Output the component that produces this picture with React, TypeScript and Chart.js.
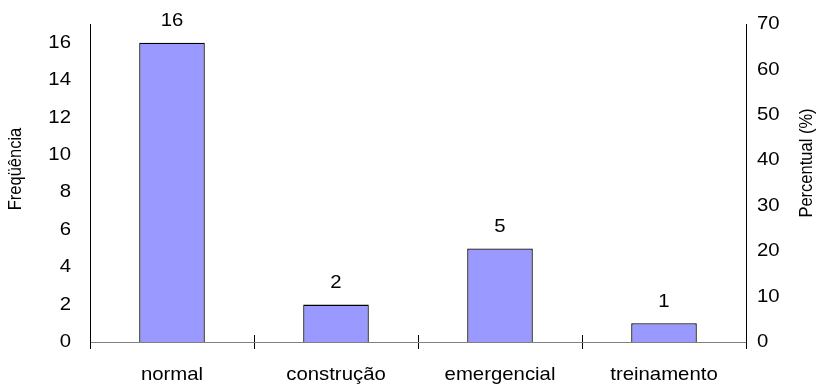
import React, { useEffect, useRef } from "react";
import { Chart, registerables } from "chart.js";

Chart.register(...registerables);

const categories = ["normal", "construção", "emergencial", "treinamento"];
const frequencies = [16, 2, 5, 1];
const leftTicks = [0, 2, 4, 6, 8, 10, 12, 14, 16];
const rightTicks = [0, 10, 20, 30, 40, 50, 60, 70];
const leftTitle = "Freqüência";
const rightTitle = "Percentual (%)";

const FONT = "'Liberation Sans', Arial, sans-serif";
const TXT = `18.5px ${FONT}`;
const SX = 1.1;

function drawText(ctx: CanvasRenderingContext2D, t: string, x: number, y: number, align: CanvasTextAlign, base: CanvasTextBaseline) {
  ctx.save();
  ctx.translate(x, y);
  ctx.scale(SX, 1);
  ctx.textAlign = align;
  ctx.textBaseline = base;
  ctx.fillText(t, 0, 0);
  ctx.restore();
}

function drawTitle(ctx: CanvasRenderingContext2D, t: string, x: number, y: number) {
  ctx.save();
  ctx.translate(x, y);
  ctx.rotate(-Math.PI / 2);
  ctx.scale(1, 1.15);
  ctx.font = `16.5px ${FONT}`;
  ctx.textAlign = "center";
  ctx.textBaseline = "alphabetic";
  ctx.fillText(t, 0, 0);
  ctx.restore();
}

const extrasPlugin = {
  id: "extras",
  afterDraw(chart: any) {
    const ctx = chart.ctx;
    const xs = chart.scales.x;
    const ys = chart.scales.y;
    const yr = chart.scales.y1;
    const meta = chart.getDatasetMeta(0);
    ctx.save();
    ctx.fillStyle = "#000";
    ctx.font = TXT;
    meta.data.forEach((el: any, i: number) => {
      drawText(ctx, String(frequencies[i]), el.x, el.y - 16.5, "center", "alphabetic");
    });
    leftTicks.forEach((v) => {
      drawText(ctx, String(v), ys.left + ys.width - 19, ys.getPixelForValue(v), "right", "middle");
    });
    rightTicks.forEach((v) => {
      drawText(ctx, String(v), yr.left + 11, yr.getPixelForValue(v), "left", "middle");
    });
    categories.forEach((c, i) => {
      drawText(ctx, c, xs.getPixelForValue(i), xs.top + 38, "center", "alphabetic");
    });
    const y0 = ys.getPixelForValue(0);
    ctx.strokeStyle = "#000";
    ctx.lineWidth = 1;
    for (let i = 1; i < categories.length; i++) {
      const bx = Math.round((xs.getPixelForValue(i - 1) + xs.getPixelForValue(i)) / 2) + 0.5;
      ctx.beginPath();
      ctx.moveTo(bx, y0 - 7);
      ctx.lineTo(bx, y0);
      ctx.stroke();
    }
    drawTitle(ctx, leftTitle, 21, 169);
    drawTitle(ctx, rightTitle, 812, 163);
    ctx.restore();
  },
};

const fitY = (w: number) => (s: any) => {
  s.width = w;
  s.paddingTop = 0;
  s.paddingBottom = 0;
};

export default function App() {
  const ref = useRef<HTMLCanvasElement | null>(null);
  useEffect(() => {
    if (!ref.current) return;
    const chart = new Chart(ref.current, {
      type: "bar",
      data: {
        labels: categories,
        datasets: [
          {
            data: frequencies,
            backgroundColor: "#9999FF",
            borderColor: "#000000",
            borderWidth: 1.3,
            barPercentage: 0.4,
            categoryPercentage: 1,
            yAxisID: "y",
          },
        ],
      },
      options: {
        animation: false,
        responsive: false,
        maintainAspectRatio: false,
        layout: { padding: { top: 24, left: 0, right: 0, bottom: 0 } },
        plugins: {
          legend: { display: false },
          title: { display: false },
          tooltip: { enabled: false },
        },
        scales: {
          x: {
            type: "category",
            offset: true,
            grid: {
              display: true,
              offset: true,
              drawOnChartArea: false,
              drawTicks: true,
              tickLength: 7,
              color: "#000",
            },
            border: { display: true, color: "#808080", width: 1 },
            ticks: {
              color: "rgba(0,0,0,0)",
              font: { family: FONT, size: 10 },
              padding: 4,
              maxRotation: 0,
            },
            afterFit: (s: any) => {
              s.height = 44;
              s.paddingLeft = 0;
              s.paddingRight = 0;
            },
          },
          y: {
            type: "linear",
            position: "left",
            min: 0,
            max: 17,
            grid: { display: false, drawTicks: false },
            border: { display: true, color: "#000", width: 1 },
            ticks: {
              stepSize: 2,
              includeBounds: false,
              color: "rgba(0,0,0,0)",
              font: { family: FONT, size: 10 },
              padding: 4,
            },
            afterFit: fitY(90),
          },
          y1: {
            type: "linear",
            position: "right",
            min: 0,
            max: 70,
            grid: { display: false, drawTicks: false },
            border: { display: true, color: "#000", width: 1 },
            ticks: {
              stepSize: 10,
              color: "rgba(0,0,0,0)",
              font: { family: FONT, size: 10 },
              padding: 4,
            },
            afterFit: fitY(72),
          },
        },
      },
      plugins: [extrasPlugin],
    });
    return () => chart.destroy();
  }, []);
  return (
    <div style={{ position: "fixed", left: 0, top: 0, width: 818, height: 386, background: "#fff" }}>
      <canvas ref={ref} width={818} height={386} style={{ display: "block", width: 818, height: 386 }} />
    </div>
  );
}
